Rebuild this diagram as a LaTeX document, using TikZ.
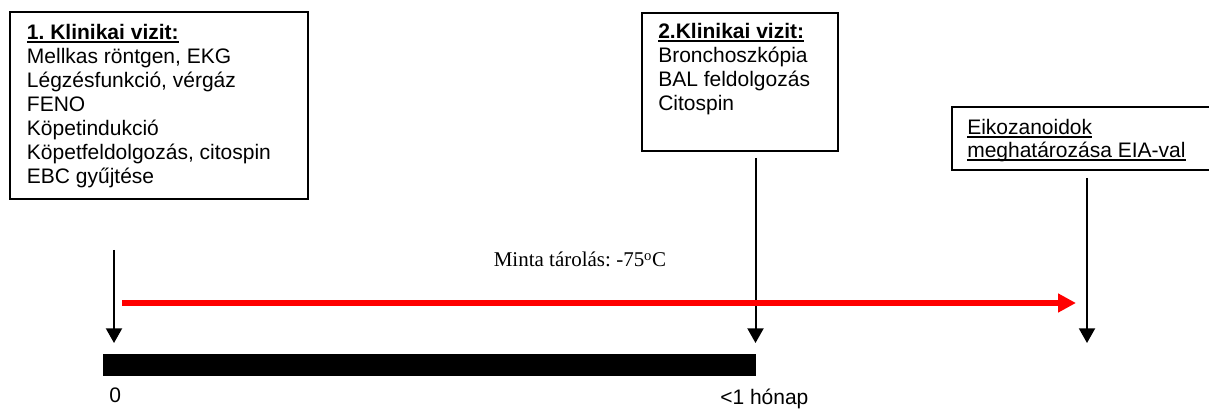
\documentclass[tikz,border=0pt]{standalone}
\usepackage{fontspec}
\setmainfont{Liberation Sans}
\newfontfamily\serifA{Liberation Serif}
\usetikzlibrary{arrows.meta,fit}
\frenchspacing
\newcommand\myul[1]{\setbox0\hbox{#1}\rlap{\rule[-2.2pt]{\wd0}{1.1pt}}\box0}
\tikzset{
  frame/.style={draw=black, line width=1.5pt, inner sep=0pt},
  txt/.style={anchor=base west, inner sep=0pt, font=\fontsize{15.75}{18}\selectfont},
  blackarrow/.style={line width=1.5pt, -{Triangle[width=12pt,length=11pt]}},
  redarrow/.style={draw=red, line width=3.8pt, -{Triangle[width=13.5pt,length=13.5pt]}},
}
\begin{document}
\begin{tikzpicture}[x=0.75pt,y=-0.75pt]
\useasboundingbox (0,0) rectangle (1209,409);
% boxes
\node[frame, fit={(10,12)(308,199)}] (b1) {};
\node[frame, fit={(642,13)(838,151)}] (b2) {};
\node[frame, fit={(952,106.7)(1218,170)}] (b3) {};
% box texts
\node[txt] (t1) at (26.7,40) {\vtop{\baselineskip=18pt
  \hbox{\bfseries\myul{1. Klinikai vizit:}}
  \hbox{Mellkas röntgen, EKG}
  \hbox{Légzésfunkció, vérgáz}
  \hbox{FENO}
  \hbox{Köpetindukció}
  \hbox{Köpetfeldolgozás, citospin}
  \hbox{EBC gyűjtése}}};
\node[txt] (t2) at (658,39) {\vtop{\baselineskip=18pt
  \hbox{\bfseries\myul{2.Klinikai vizit:}}
  \hbox{Bronchoszkópia}
  \hbox{BAL feldolgozás}
  \hbox{Citospin}}};
\node[txt] (t3) at (967,135) {\vtop{\baselineskip=17.25pt
  \hbox{\myul{Eikozanoidok}}
  \hbox{\myul{meghatározása EIA-val}}}};
% arrows
\coordinate (a1s) at (114,250);
\coordinate (a1e) at (114,343);
\coordinate (a2s) at (755.5,158);
\coordinate (a2e) at (755.5,343);
\coordinate (a3s) at (1087,178);
\coordinate (a3e) at (1087,343);
\draw[blackarrow] (a1s) -- (a1e);
\draw[blackarrow] (a2s) -- (a2e);
\draw[blackarrow] (a3s) -- (a3e);
\coordinate (rs) at (122,303);
\coordinate (re) at (1076,303);
\draw[redarrow] (rs) -- (re);
% bar
\node[fill=black, inner sep=0pt, fit={(103,354)(756,376)}] (bar) {};
% labels
\node[anchor=base, inner sep=0pt, font=\serifA\fontsize{15.75}{18}\selectfont] (m) at (580,267) {Minta tárolás: -75\textsuperscript{o}C};
\node[txt] (l0) at (109,402) {0};
\node[txt] (l1) at (720,404) {<1 hónap};
\end{tikzpicture}
\end{document}
